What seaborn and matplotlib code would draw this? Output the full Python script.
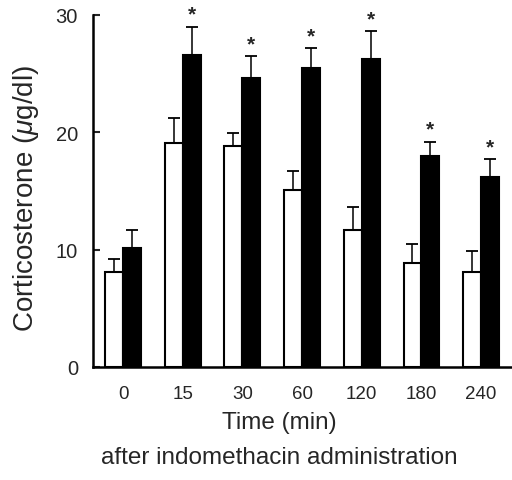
import pandas as pd
import seaborn as sns
import matplotlib
matplotlib.use("Agg")
import matplotlib.pyplot as plt

# data
times = ["0", "15", "30", "60", "120", "180", "240"]
control = [8.1, 19.1, 18.8, 15.1, 11.7, 8.9, 8.1]
control_err = [1.1, 2.1, 1.1, 1.6, 1.9, 1.6, 1.8]
indo = [10.1, 26.6, 24.6, 25.5, 26.2, 18.0, 16.2]
indo_err = [1.6, 2.4, 1.9, 1.7, 2.4, 1.2, 1.5]
signif = [False, True, True, True, True, True, True]

df = pd.DataFrame({
    "time": times * 2,
    "value": control + indo,
    "group": ["control"] * len(times) + ["indomethacin"] * len(times),
})

sns.set_theme(style="ticks")
plt.rcParams["font.family"] = ["Liberation Sans", "DejaVu Sans"]
plt.rcParams["mathtext.fontset"] = "custom"
plt.rcParams["mathtext.rm"] = "Liberation Sans"
plt.rcParams["mathtext.it"] = "Liberation Sans:italic"

fig = plt.figure(figsize=(5.12, 4.81), dpi=100)
ax = fig.add_axes([0.182, 0.235, 0.816, 0.732])

sns.barplot(data=df, x="time", y="value", hue="group", order=times,
            palette=["white", "black"], edgecolor="black", linewidth=1.5,
            width=0.6, gap=0, errorbar=None, legend=False, ax=ax)

# upward-only error bars
for cont, errs in zip(ax.containers, [control_err, indo_err]):
    for bar, e in zip(cont, errs):
        x = bar.get_x() + bar.get_width() / 2
        ax.errorbar(x, bar.get_height(), yerr=[[0], [e]], fmt="none",
                    ecolor="black", elinewidth=1.1, capsize=4, capthick=1.3)

# significance stars above the indomethacin bars
for bar, e, s in zip(ax.containers[1], indo_err, signif):
    if s:
        x = bar.get_x() + bar.get_width() / 2
        ax.annotate("*", (x, bar.get_height() + e), xytext=(0, 2),
                    textcoords="offset points", ha="center", va="bottom",
                    fontsize=15, fontweight="bold")

ax.set_xlim(-0.5, 6.5)
ax.set_ylim(0, 30)
ax.set_yticks([0, 10, 20, 30])
ax.tick_params(axis="y", direction="in", length=5, width=1.5, labelsize=14.5, pad=11)
ax.tick_params(axis="x", length=0, labelsize=13.5, pad=13)
for side in ["top", "right"]:
    ax.spines[side].set_visible(False)
for side in ["left", "bottom"]:
    ax.spines[side].set_linewidth(1.8)
    ax.spines[side].set_color("black")

ax.set_ylabel(r"Corticosterone ($\mu$g/dl)", fontsize=20)
ax.yaxis.set_label_coords(-0.125, 0.48, transform=ax.transAxes)
ax.set_xlabel("Time (min)\nafter indomethacin administration", fontsize=17.5,
              linespacing=1.75)
ax.xaxis.set_label_coords(0.446, -0.125, transform=ax.transAxes)
ax.xaxis.label.set_va("top")

fig.savefig("out.png", dpi=100)
